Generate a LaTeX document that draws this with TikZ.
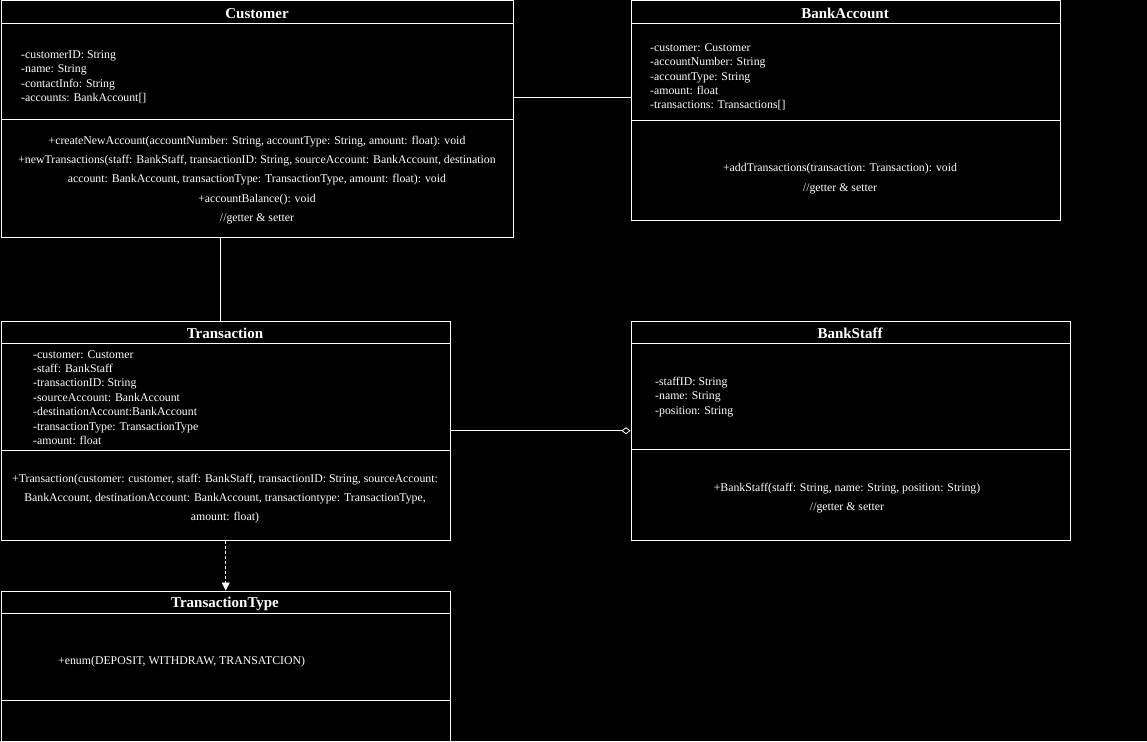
\documentclass[tikz,border=0pt]{standalone}
\usepackage{fontspec}
\setmainfont{Liberation Serif}
\usetikzlibrary{arrows.meta}
\begin{document}
\begin{tikzpicture}[x=1pt,y=-1pt,
  classbox/.style={draw=white, line width=0.9pt, inner sep=0pt, anchor=north west},
  sep/.style={draw=white, line width=0.9pt},
  title/.style={text=white, font=\bfseries\fontsize{15}{18}\selectfont, inner sep=0pt, yshift=-1.5pt},
  attrs/.style={text=white, align=left, anchor=west, inner sep=0pt, yshift=-1.5pt},
  meths/.style={text=white, align=center, inner sep=0pt, yshift=-1.5pt},
  conn/.style={draw=white, line width=0.8pt}
]
\fill[black] (0,0) rectangle (1147,741);
\useasboundingbox (0,0) rectangle (1147,741);

% Customer
\node[classbox, minimum width=512pt, minimum height=236.5pt] (cust) at (0.5,0.5) {};
\draw[sep] (0.5,23) -- (512.5,23);
\draw[sep] (0.5,119) -- (512.5,119);
\node[title] (custT) at (257,12) {Customer};
\node[attrs, font=\fontsize{11.8}{14.4}\selectfont] (custA) at (21,75.5) {-customerID: String\\-name: String\\-contactInfo: String\\-accounts: BankAccount[]};
\node[meths, font=\fontsize{11.8}{19.25}\selectfont] (custM) at (257,178.5) {+createNewAccount(accountNumber: String, accountType: String, amount: float): void\\+newTransactions(staff: BankStaff, transactionID: String, sourceAccount: BankAccount, destination\\account: BankAccount, transactionType: TransactionType, amount: float): void\\+accountBalance(): void\\//getter \& setter};

% BankAccount
\node[classbox, minimum width=429.5pt, minimum height=219pt] (ba) at (630.5,0.5) {};
\draw[sep] (630.5,23) -- (1060,23);
\draw[sep] (630.5,120) -- (1060,120);
\node[title] (baT) at (845,12) {BankAccount};
\node[attrs, font=\fontsize{11.8}{14.3}\selectfont] (baA) at (650,75.5) {-customer: Customer\\-accountNumber: String\\-accountType: String\\-amount: float\\-transactions: Transactions[]};
\node[meths, font=\fontsize{11.8}{20}\selectfont] (baM) at (840,177) {+addTransactions(transaction: Transaction): void\\//getter \& setter};

% Transaction
\node[classbox, minimum width=449.5pt, minimum height=219.5pt] (tr) at (0.5,320.5) {};
\draw[sep] (0.5,343) -- (450,343);
\draw[sep] (0.5,450) -- (450,450);
\node[title] (trT) at (225,332) {Transaction};
\node[attrs, font=\fontsize{11.8}{14.35}\selectfont] (trA) at (33,396) {-customer: Customer\\-staff: BankStaff\\-transactionID: String\\-sourceAccount: BankAccount\\-destinationAccount:BankAccount\\-transactionType: TransactionType\\-amount: float};
\node[meths, font=\fontsize{11.8}{19}\selectfont] (trM) at (225,497) {+Transaction(customer: customer, staff: BankStaff, transactionID: String, sourceAccount:\\BankAccount, destinationAccount: BankAccount, transactiontype: TransactionType,\\amount: float)};

% BankStaff
\node[classbox, minimum width=439.5pt, minimum height=219.5pt] (bs) at (630.5,320.5) {};
\draw[sep] (630.5,343) -- (1070,343);
\draw[sep] (630.5,449) -- (1070,449);
\node[title] (bsT) at (850,332) {BankStaff};
\node[attrs, font=\fontsize{11.8}{14.5}\selectfont] (bsA) at (655,395.5) {-staffID: String\\-name: String\\-position: String};
\node[meths, font=\fontsize{11.8}{19}\selectfont] (bsM) at (847,496.5) {+BankStaff(staff: String, name: String, position: String)\\//getter \& setter};

% TransactionType
\node[classbox, minimum width=449.5pt, minimum height=150pt] (tt) at (0.5,590.5) {};
\draw[sep] (0.5,613) -- (450,613);
\draw[sep] (0.5,700) -- (450,700);
\node[title] (ttT) at (225,602) {TransactionType};
\node[attrs, font=\fontsize{11.8}{14.5}\selectfont] (ttA) at (58,660) {+enum(DEPOSIT, WITHDRAW, TRANSATCION)};

% Connectors
\draw[conn] ([yshift=21.5pt]cust.east) -- ([yshift=21.5pt]cust.east -| ba.west);
\draw[conn] ([xshift=-36.5pt]cust.south) -- ([xshift=-36.5pt]cust.south |- tr.north);
\draw[conn, -{Diamond[open, length=9pt, width=7pt, line width=0.8pt]}] (tr.east) -- (tr.east -| bs.west);
\draw[conn, dashed, dash pattern=on 3pt off 2pt, -{Triangle[fill=white, length=8pt, width=8pt]}] (tr.south) -- (tr.south |- tt.north);
\end{tikzpicture}
\end{document}
